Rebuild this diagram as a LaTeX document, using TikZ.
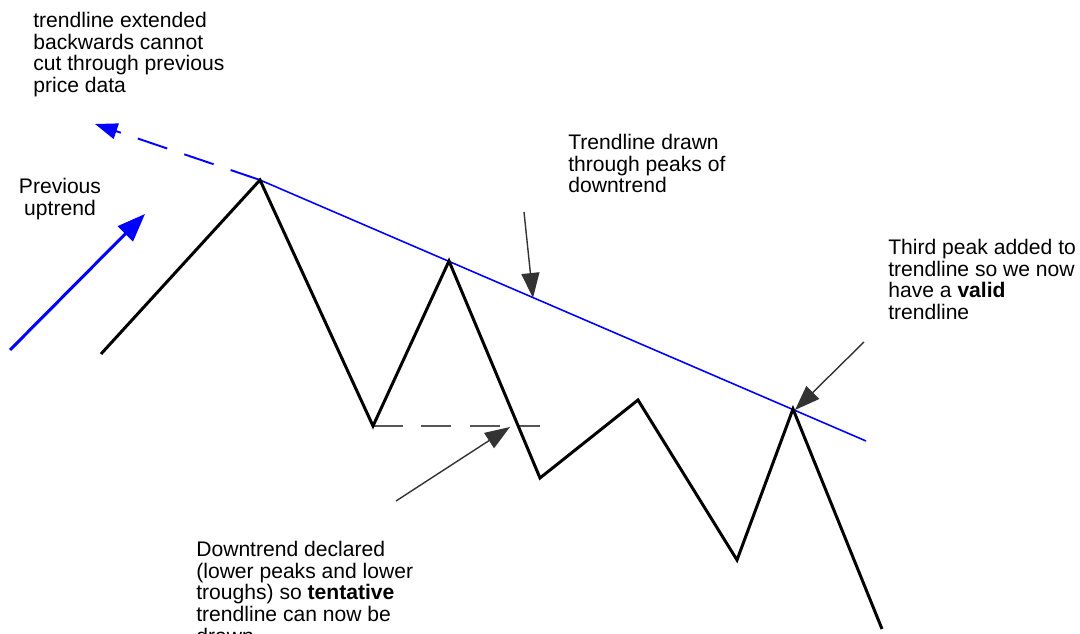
\documentclass[tikz,border=0pt]{standalone}
\usepackage{fontspec}
\setmainfont{Liberation Sans}
\usetikzlibrary{arrows.meta}
\definecolor{trblue}{RGB}{0,0,255}
\definecolor{trgrey}{RGB}{51,51,51}
\definecolor{trdash}{RGB}{85,85,85}
\tikzset{
  note/.style={inner sep=0pt, align=left, anchor=north west, font=\fontsize{12}{12.3}\selectfont},
  price/.style={line width=1.7pt, black},
  trend/.style={line width=0.9pt, trblue},
  ext/.style={line width=1.1pt, trblue, dash pattern=on 0.62cm off 0.36cm, -{Triangle[length=0.45cm,width=0.32cm]}},
  uparrow/.style={line width=1.7pt, trblue, -{Triangle[length=0.56cm,width=0.42cm]}},
  level/.style={line width=0.9pt, trdash, dash pattern=on 0.6cm off 0.37cm},
  pointer/.style={line width=0.8pt, trgrey, -{Triangle[length=0.5cm,width=0.36cm]}}
}
\begin{document}
\begin{tikzpicture}[x=0.02cm, y=-0.02cm]
        \useasboundingbox (0,0) rectangle (1080,634);
        % price swings
        \coordinate (p0) at (101,354);
        \coordinate (p1) at (260,180);
        \coordinate (p2) at (373,426);
        \coordinate (p3) at (449,261);
        \coordinate (p4) at (540,478);
        \coordinate (p5) at (638,400);
        \coordinate (p6) at (737,560);
        \coordinate (p7) at (793,409);
        \coordinate (p8) at (882,629);
        \coordinate (tend) at (866,441);
        \coordinate (extto) at (95,124);
        \coordinate (lvlend) at (540,426);
        \coordinate (upfrom) at (10,350);
        \coordinate (upto) at (145,214);
        \coordinate (declfrom) at (396,501);
        \coordinate (declto) at (510,427);
        \coordinate (tlfrom) at (524,212);
        \coordinate (tlto) at (533,298);
        \coordinate (validfrom) at (864,342);
        \coordinate (validto) at (795,410);
        % notes
        \node[note] (extnote) at (33,12) {trendline extended\\backwards cannot\\cut through previous\\price data};
        \node[note, align=center, anchor=north] (upnote) at (60,178) {Previous\\uptrend};
        \node[note] (tlnote) at (568,134) {Trendline drawn\\through peaks of\\downtrend};
        \node[note] (validnote) at (888,239) {Third peak added to\\trendline so we now\\have a \textbf{valid}\\trendline};
        \node[note] (declnote) at (196,541) {Downtrend declared\\(lower peaks and lower\\troughs) so \textbf{tentative}\\trendline can now be\\drawn};
        % lines
        \draw[level] (p2) -- (lvlend);
        \draw[trend] (p1) -- (tend);
        \draw[ext] (p1) -- (extto);
        \draw[uparrow] (upfrom) -- (upto);
        \draw[price] (p0) -- (p1) -- (p2) -- (p3) -- (p4) -- (p5) -- (p6) -- (p7) -- (p8);
        \draw[pointer] (declfrom) -- (declto);
        \draw[pointer] (tlfrom) -- (tlto);
        \draw[pointer] (validfrom) -- (validto);
\end{tikzpicture}
\end{document}
